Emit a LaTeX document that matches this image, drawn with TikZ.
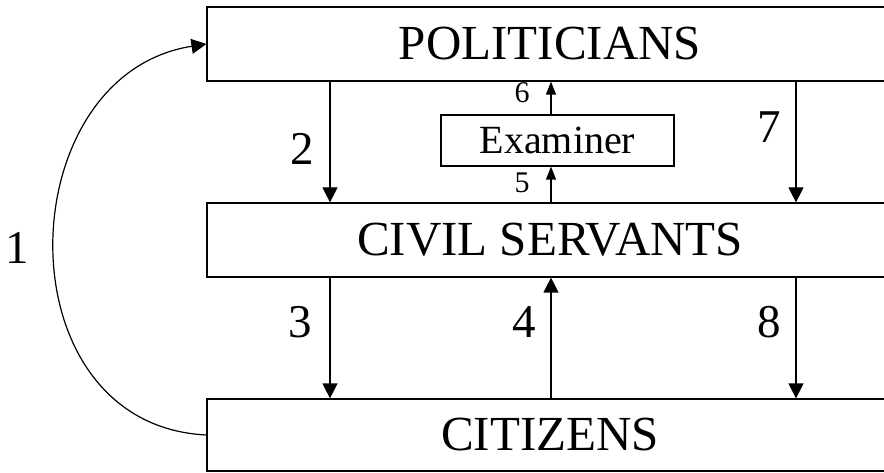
\documentclass[tikz,border=0pt]{standalone}
\usepackage{fontspec}
\setmainfont{Liberation Serif}
\usetikzlibrary{arrows.meta}
\begin{document}
\begin{tikzpicture}[x=1pt,y=-1pt,
  line width=1.2pt,
  level/.style={draw, rectangle, inner sep=0pt, minimum width=686pt,
    minimum height=74pt, font=\fontsize{49}{50}\selectfont},
  exambox/.style={draw, rectangle, inner sep=0pt, minimum width=233pt,
    minimum height=51pt, font=\fontsize{40}{42}\selectfont},
  lab/.style={inner sep=0pt, font=\fontsize{47}{48}\selectfont},
  smalllab/.style={inner sep=0pt, font=\fontsize{30}{31}\selectfont},
  arr/.style={-{Triangle[length=15pt,width=15pt]}},
  smallarr/.style={-{Triangle[length=13pt,width=10pt]}}]
\clip (0,0) rectangle (884,473);

% the three levels and the examiner
\node[level] (pol) at (550,44) {POLITICIANS};
\node[level] (civ) at (550,240) {CIVIL SERVANTS};
\node[level, minimum height=72pt] (cit) at (550,435) {CITIZENS};
\node[exambox] (exam) at (557.5,140.5) {Examiner};

% columns of the vertical connectors
\coordinate (xa) at (330,0);
\coordinate (xb) at (551,0);
\coordinate (xc) at (796,0);

% connectors
\draw[arr] (cit.west) .. controls (0,425) and (8,75) .. (pol.west);
\draw[arr] (pol.south -| xa) -- (civ.north -| xa);
\draw[arr] (civ.south -| xa) -- (cit.north -| xa);
\draw[arr] (cit.north -| xb) -- (civ.south -| xb);
\draw[smallarr] (civ.north -| xb) -- (exam.south -| xb);
\draw[smallarr] (exam.north -| xb) -- (pol.south -| xb);
\draw[arr] (pol.south -| xc) -- (civ.north -| xc);
\draw[arr] (civ.south -| xc) -- (cit.north -| xc);

% labels
\node[lab] (l1) at (17,248) {1};
\node[lab] (l2) at (302,149) {2};
\node[lab] (l3) at (300,322) {3};
\node[lab] (l4) at (524,322) {4};
\node[smalllab] (l5) at (522,183) {5};
\node[smalllab] (l6) at (522,93) {6};
\node[lab] (l7) at (769,127) {7};
\node[lab] (l8) at (769.5,322) {8};
\end{tikzpicture}
\end{document}
